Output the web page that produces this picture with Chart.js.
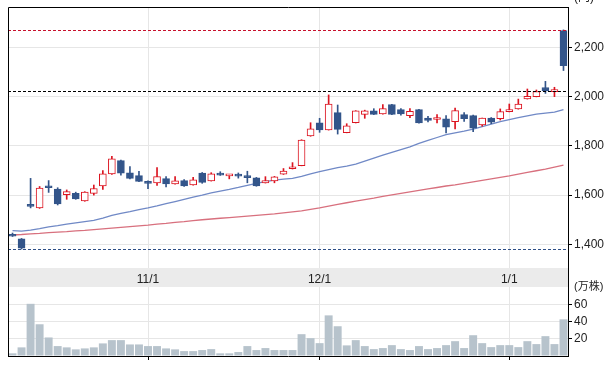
<!DOCTYPE html>
<html lang="ja">
<head>
<meta charset="UTF-8">
<title>株価チャート</title>
<script src="https://cdn.jsdelivr.net/npm/chart.js"></script>
<style>
  body { margin: 0; background: #fff; }
  .wrap { position: relative; width: 616px; height: 369px; overflow: hidden; }
  #priceChart { position: absolute; left: 0; top: 0; }
  #volChart { position: absolute; left: 0; top: 276px; }
</style>
</head>
<body>
<div class="wrap">
  <canvas id="priceChart" width="616" height="287"></canvas>
  <canvas id="volChart" width="616" height="93"></canvas>
</div>
<script>
// 月初の目盛り (足の番号と表示)
const monthIdx = [15, 34, 55];
const monthNames = ['11/1', '12/1', '1/1'];

const opens = [1438, 1422, 1556, 1548, 1634, 1625, 1602, 1607, 1576, 1607,
  1637, 1686, 1740, 1691, 1679, 1651, 1650, 1667, 1645, 1659,
  1641, 1690, 1658, 1689, 1678, 1683, 1674, 1670, 1650, 1658,
  1685, 1707, 1720, 1840, 1894, 1865, 1935, 1854, 1894, 1928,
  1942, 1930, 1968, 1947, 1923, 1947, 1913, 1907, 1910, 1898,
  1927, 1923, 1885, 1913, 1910, 1939, 1950, 1991, 2000, 2037,
  2020, 2268];
const highs = [1446, 1424, 1668, 1635, 1659, 1630, 1621, 1612, 1614, 1641,
  1700, 1758, 1742, 1716, 1697, 1658, 1712, 1675, 1675, 1663,
  1672, 1692, 1691, 1695, 1683, 1690, 1697, 1672, 1675, 1676,
  1708, 1732, 1825, 1894, 1912, 2007, 1966, 1890, 1943, 1945,
  1951, 1968, 1969, 1951, 1951, 1948, 1920, 1927, 1923, 1953,
  1935, 1925, 1913, 1915, 1950, 1970, 1990, 2031, 2027, 2062,
  2038, 2271];
const lows = [1432, 1381, 1548, 1546, 1611, 1560, 1583, 1583, 1575, 1600,
  1623, 1684, 1681, 1666, 1655, 1626, 1639, 1633, 1644, 1635,
  1640, 1648, 1657, 1680, 1666, 1669, 1650, 1636, 1649, 1650,
  1684, 1706, 1719, 1839, 1855, 1864, 1848, 1853, 1893, 1912,
  1927, 1929, 1927, 1925, 1915, 1892, 1897, 1893, 1853, 1869,
  1899, 1858, 1880, 1890, 1905, 1938, 1949, 1990, 1999, 2013,
  2000, 2106];
const closes = [1433, 1385, 1554, 1629, 1630, 1564, 1614, 1585, 1612, 1627,
  1686, 1747, 1689, 1668, 1656, 1648, 1675, 1645, 1658, 1637,
  1662, 1652, 1686, 1681, 1683, 1677, 1671, 1637, 1659, 1674,
  1698, 1712, 1824, 1869, 1865, 1970, 1867, 1881, 1942, 1942,
  1928, 1951, 1928, 1930, 1940, 1893, 1903, 1910, 1876, 1943,
  1910, 1872, 1913, 1896, 1939, 1947, 1970, 2001, 2021, 2023,
  2022, 2126];

// 移動平均 (短期・長期)
const maShort = [1456, 1454, 1458, 1464, 1471, 1476, 1482, 1487, 1492, 1497,
  1507, 1518, 1526, 1533, 1541, 1548, 1556, 1565, 1574, 1583,
  1592, 1600, 1609, 1616, 1623, 1631, 1640, 1648, 1655, 1661,
  1665, 1668, 1676, 1686, 1695, 1704, 1712, 1718, 1726, 1738,
  1750, 1762, 1774, 1785, 1796, 1810, 1822, 1834, 1846, 1853,
  1860, 1868, 1878, 1888, 1898, 1907, 1915, 1922, 1929, 1933,
  1937, 1947];
const maLong = [1438, 1440, 1443, 1445, 1448, 1450, 1452, 1455, 1457, 1460,
  1463, 1466, 1469, 1472, 1475, 1478, 1482, 1485, 1489, 1492,
  1496, 1500, 1503, 1506, 1509, 1512, 1515, 1518, 1521, 1524,
  1528, 1532, 1536, 1542, 1548, 1555, 1562, 1569, 1576, 1582,
  1588, 1595, 1601, 1607, 1613, 1619, 1625, 1631, 1637, 1642,
  1648, 1654, 1660, 1666, 1672, 1678, 1685, 1692, 1699, 1706,
  1714, 1722];

// 出来高 (万株)
const volumes = [3.1, 10, 60.5, 36.8, 21.5, 11.5, 10, 7.7, 8.8, 10,
  14.6, 18.4, 18.4, 13.4, 13.4, 11.5, 11.5, 8.8, 7.7, 5.7,
  5.7, 6.9, 8, 3.1, 3.1, 4.6, 11.5, 6.9, 9.2, 6.9,
  6.9, 6.9, 25.3, 20.7, 14.9, 47.1, 34.5, 12.3, 18.4, 11.5,
  8, 9.2, 12.6, 8, 6.9, 11.5, 8, 9.2, 12.6, 17.2,
  9.2, 24.1, 14.9, 10.3, 12.6, 12.6, 10.3, 17.2, 13.8, 23,
  13.8, 42.5];

const priceTicks = [1400, 1600, 1800, 2000, 2200];
const volTicks = [0, 20, 40, 60, 80];
// 高値・基準・安値の破線
const refLevels = [2271, 2024, 1381];
const refColors = ['#c8102e', '#000000', '#2f4f86'];

const UP = '#dc1420';
const DOWN = '#33558a';
const GRID = '#e6e6e6';
const FONT = '"Liberation Sans", Arial, "Noto Sans CJK JP", sans-serif';

const labels = opens.map((o, i) => {
  const k = monthIdx.indexOf(i);
  return k >= 0 ? monthNames[k] : '';
});
const isUp = i => closes[i] >= opens[i];

Chart.defaults.font.family = FONT;
Chart.defaults.font.size = 12;
Chart.defaults.color = '#222';
Chart.defaults.animation = false;

const frame1 = {
  id: 'frame1',
  beforeDraw(chart) {
    const { ctx, chartArea } = chart;
    const xs = chart.scales.x;
    ctx.save();
    ctx.fillStyle = '#ebebeb';
    ctx.fillRect(chartArea.left, xs.top, chartArea.right - chartArea.left, xs.bottom - xs.top);
    ctx.restore();
  },
  afterDatasetsDraw(chart) {
    const { ctx, chartArea } = chart;
    const ys = chart.scales.y;
    ctx.save();
    ctx.lineWidth = 1;
    ctx.setLineDash([3, 2]);
    refLevels.forEach((v, k) => {
      const y = Math.round(ys.getPixelForValue(v)) + 0.5;
      ctx.strokeStyle = refColors[k];
      ctx.beginPath();
      ctx.moveTo(chartArea.left, y);
      ctx.lineTo(chartArea.right, y);
      ctx.stroke();
    });
    ctx.restore();
  },
  afterDraw(chart) {
    const { ctx, chartArea } = chart;
    const xs = chart.scales.x;
    const ys = chart.scales.y;
    ctx.save();
    ctx.strokeStyle = '#000';
    ctx.lineWidth = 1;
    const l = Math.round(chartArea.left) + 0.5;
    const r = Math.round(chartArea.right) + 0.5;
    const t = Math.round(chartArea.top) + 0.5;
    ctx.beginPath();
    ctx.moveTo(l, xs.bottom);
    ctx.lineTo(l, t);
    ctx.lineTo(r, t);
    ctx.lineTo(r, xs.bottom);
    ctx.stroke();
    ctx.fillStyle = '#222';
    ctx.font = '12px ' + FONT;
    ctx.textBaseline = 'middle';
    ctx.fillText('(円)', ys.left + 6, chartArea.top - 9);
    ctx.restore();
  }
};

new Chart(document.getElementById('priceChart'), {
  type: 'bar',
  data: {
    labels: labels,
    datasets: [
      {
        type: 'line', data: maShort, borderColor: '#7089c6', borderWidth: 1.3,
        pointRadius: 0, tension: 0, order: 5
      },
      {
        type: 'line', data: maLong, borderColor: '#d8707e', borderWidth: 1.3,
        pointRadius: 0, tension: 0, order: 6
      },
      {
        data: lows.map((l, i) => [l, highs[i]]),
        backgroundColor: c => isUp(c.dataIndex) ? UP : DOWN,
        barThickness: 1, grouped: false, order: 3
      },
      {
        data: opens.map((o, i) => [o, closes[i]]),
        backgroundColor: c => isUp(c.dataIndex) ? '#ffffff' : DOWN,
        borderColor: c => isUp(c.dataIndex) ? UP : DOWN,
        borderWidth: 1, borderSkipped: false, minBarLength: 2,
        barThickness: 7, grouped: false, order: 2
      }
    ]
  },
  options: {
    responsive: false,
    layout: { padding: { left: 8, top: 7, right: 0, bottom: 0 } },
    plugins: { legend: { display: false }, tooltip: { enabled: false } },
    scales: {
      x: {
        type: 'category',
        offset: true,
        grid: {
          offset: false, drawTicks: false,
          color: c => labels[c.index] ? GRID : 'rgba(0,0,0,0)'
        },
        border: { display: false },
        ticks: { autoSkip: false, maxRotation: 0, padding: 4, callback: (v, i) => labels[i] },
        afterFit: s => { s.height = 19; s.paddingLeft = 0; s.paddingRight = 0; }
      },
      y: {
        position: 'right',
        min: 1304, max: 2364,
        afterBuildTicks: s => { s.ticks = priceTicks.map(v => ({ value: v })); },
        grid: { color: GRID, tickColor: '#000', tickLength: 4 },
        border: { display: true, color: '#000' },
        ticks: { autoSkip: false, padding: 2, callback: v => v.toLocaleString('en-US') },
        afterFit: s => { s.width = 48; s.paddingTop = 0; s.paddingBottom = 0; }
      }
    }
  },
  plugins: [frame1]
});

const frame2 = {
  id: 'frame2',
  afterDraw(chart) {
    const { ctx, chartArea } = chart;
    ctx.save();
    ctx.strokeStyle = '#000';
    ctx.lineWidth = 1;
    const l = Math.round(chartArea.left) + 0.5;
    ctx.beginPath();
    ctx.moveTo(l, chartArea.top);
    ctx.lineTo(l, chartArea.bottom);
    ctx.stroke();
    ctx.restore();
  }
};

new Chart(document.getElementById('volChart'), {
  type: 'bar',
  data: {
    labels: labels,
    datasets: [{
      data: volumes,
      backgroundColor: '#b7c3cc',
      barPercentage: 0.88, categoryPercentage: 1
    }]
  },
  options: {
    responsive: false,
    layout: { padding: { left: 8, top: 11, right: 0, bottom: 0 } },
    plugins: { legend: { display: false }, tooltip: { enabled: false } },
    scales: {
      x: {
        type: 'category',
        offset: true,
        grid: {
          offset: false, drawTicks: true, tickLength: 4,
          color: c => labels[c.index] ? GRID : 'rgba(0,0,0,0)',
          tickColor: c => labels[c.index] ? '#000' : 'rgba(0,0,0,0)'
        },
        border: { display: true, color: '#000' },
        ticks: { display: false, autoSkip: false },
        afterFit: s => { s.height = 13; s.paddingLeft = 0; s.paddingRight = 0; }
      },
      y: {
        position: 'right',
        min: 0, max: 80,
        afterBuildTicks: s => { s.ticks = volTicks.map(v => ({ value: v })); },
        grid: {
          color: c => (c.tick.value > 0 && c.tick.value < 80) ? GRID : 'rgba(0,0,0,0)',
          tickColor: c => (c.tick.value > 0 && c.tick.value < 80) ? '#000' : 'rgba(0,0,0,0)',
          tickLength: 4
        },
        border: { display: true, color: '#000' },
        ticks: {
          autoSkip: false, padding: 2,
          font: c => ({ size: c.tick && c.tick.value === 80 ? 11 : 12 }),
          callback: v => v === 80 ? '(万株)' : (v === 0 ? '' : v)
        },
        afterFit: s => { s.width = 48; s.paddingTop = 0; s.paddingBottom = 0; }
      }
    }
  },
  plugins: [frame2]
});
</script>
</body>
</html>
